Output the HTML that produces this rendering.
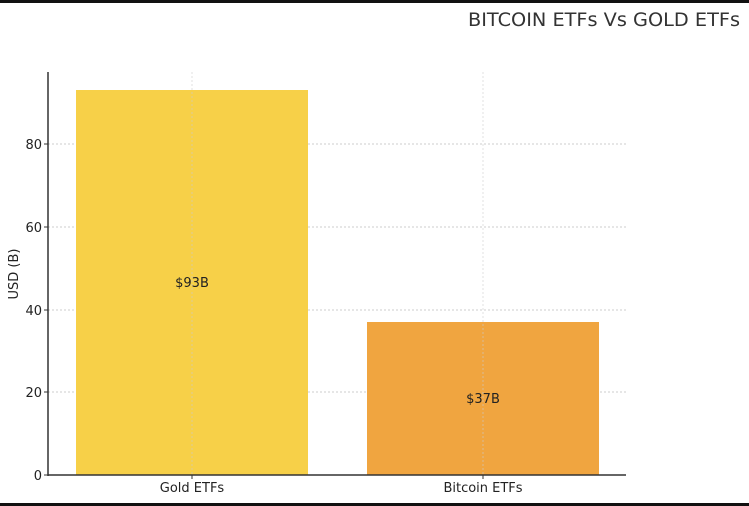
<!DOCTYPE html>
<html><head><meta charset="utf-8"><style>
html,body{margin:0;padding:0;background:#fff;}
svg{display:block;}
text{font-family:"DejaVu Sans","Liberation Sans",sans-serif;}
</style></head><body>
<svg width="749" height="506" viewBox="0 0 749 506" xmlns="http://www.w3.org/2000/svg">
<rect x="0" y="0" width="749" height="506" fill="#fff"/>
<rect x="0" y="0" width="749" height="3" fill="#111"/>
<rect x="0" y="503" width="749" height="3" fill="#111"/>
<text x="468" y="26" font-size="19" fill="#333" textLength="272" lengthAdjust="spacingAndGlyphs">BITCOIN ETFs Vs GOLD ETFs</text>
<g stroke="#ccc" stroke-width="1" stroke-dasharray="2,2">
<line x1="48" y1="392" x2="626" y2="392"/>
<line x1="48" y1="310" x2="626" y2="310"/>
<line x1="48" y1="227" x2="626" y2="227"/>
<line x1="48" y1="144" x2="626" y2="144"/>
</g>
<rect x="76" y="90" width="232" height="385" fill="#f7d048"/>
<rect x="367" y="322" width="232" height="153" fill="#f0a540"/>
<g stroke="#ccc" stroke-opacity="0.6" stroke-width="1" stroke-dasharray="2,2">
<line x1="192" y1="72" x2="192" y2="475"/>
<line x1="483" y1="72" x2="483" y2="475"/>
</g>
<line x1="48" y1="72" x2="48" y2="476" stroke="#333" stroke-width="1.5"/>
<line x1="48" y1="475" x2="626" y2="475" stroke="#333" stroke-width="1.5"/>
<g stroke="#333" stroke-width="1">
<line x1="44" y1="475" x2="48" y2="475"/><line x1="44" y1="392" x2="48" y2="392"/>
<line x1="44" y1="310" x2="48" y2="310"/><line x1="44" y1="227" x2="48" y2="227"/>
<line x1="44" y1="144" x2="48" y2="144"/>
<line x1="192" y1="475" x2="192" y2="479"/><line x1="483" y1="475" x2="483" y2="479"/>
</g>
<g font-size="13" fill="#222" text-anchor="end">
<text x="42" y="480">0</text><text x="42" y="397">20</text><text x="42" y="315">40</text>
<text x="42" y="232">60</text><text x="42" y="149">80</text>
</g>
<text x="18" y="274" font-size="13" fill="#222" text-anchor="middle" transform="rotate(-90 18 274)">USD (B)</text>
<g font-size="13" fill="#222" text-anchor="middle">
<text x="192" y="492">Gold ETFs</text><text x="483" y="492">Bitcoin ETFs</text>
<text x="192" y="287">$93B</text><text x="483" y="403">$37B</text>
</g>
</svg>
</body></html>
